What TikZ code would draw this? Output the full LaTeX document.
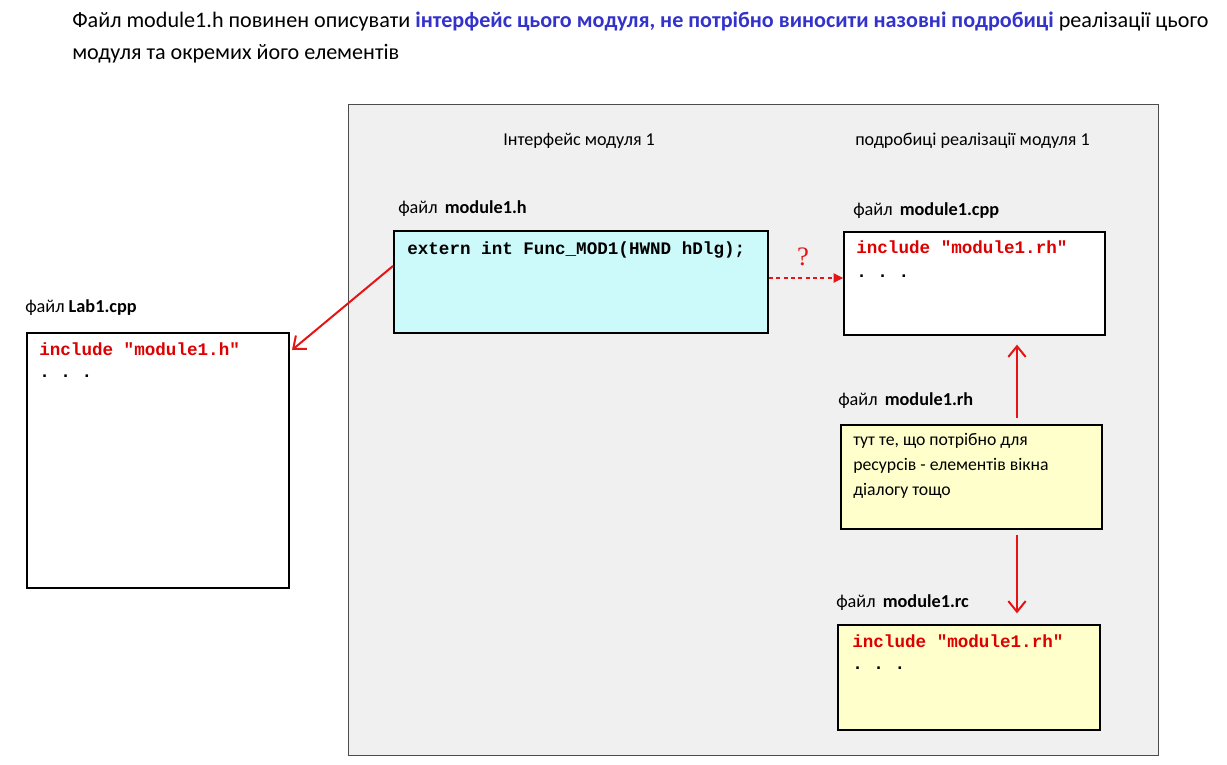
\documentclass[tikz,border=0pt]{standalone}
\usepackage{fontspec}
\setmainfont{Carlito}
\newfontfamily\codefont{Liberation Mono}
\newfontfamily\serifq{Liberation Serif}
\usetikzlibrary{arrows.meta,calc}
\definecolor{panelgray}{RGB}{240,240,240}
\definecolor{cyanbox}{RGB}{204,250,250}
\definecolor{yellowbox}{RGB}{255,255,204}
\definecolor{codered}{RGB}{220,0,0}
\definecolor{arrred}{RGB}{230,20,20}
\definecolor{titleblue}{RGB}{51,51,204}
\tikzset{
  filebox/.style={draw=black, line width=1.5pt, rectangle, inner sep=0pt, anchor=north west},
  codetxt/.style={anchor=base west, inner sep=0pt, font=\codefont\bfseries\fontsize{13.2}{15}\selectfont, text=codered},
  dotstxt/.style={anchor=base west, inner sep=0pt, font=\codefont\bfseries\fontsize{13.2}{15}\selectfont, text=black},
  lbl/.style={anchor=base west, inner sep=0pt, font=\fontsize{13.7}{15}\selectfont},
  head/.style={anchor=base west, inner sep=0pt, font=\fontsize{13.6}{15}\selectfont},
  solidarr/.style={draw=arrred, line width=1.5pt, -{Straight Barb[length=8pt,width=13pt,line width=1.5pt]}},
  dasharr/.style={draw=arrred, line width=0.8pt, dash pattern=on 3pt off 2.5pt, -{Triangle[length=7pt,width=7pt]}},
}
\begin{document}
\begin{tikzpicture}[x=0.75pt,y=-0.75pt]
\useasboundingbox (0,0) rectangle (1227,764);
% title
\node[anchor=base west, inner sep=0pt, font=\fontsize{16.6}{19}\selectfont] (t1) at (72,27)
  {Файл module1.h повинен описувати \textcolor{titleblue}{\bfseries інтерфейс цього модуля, не потрібно виносити назовні подробиці} реалізації цього};
\node[anchor=base west, inner sep=0pt, font=\fontsize{16.6}{19}\selectfont] (t2) at (72,59)
  {модуля та окремих його елементів};
% panel
\node[draw=black!70, line width=0.6pt, fill=panelgray, rectangle, inner sep=0pt, anchor=north west,
  minimum width=810*0.75pt, minimum height=651*0.75pt] (panel) at (348,104) {};
\node[head] (h1) at (503,145) {Інтерфейс модуля 1};
\node[head] (h2) at (855,145) {подробиці реалізації модуля 1};
% Lab1
\node[lbl] (l1) at (25,312) {файл \textbf{Lab1.cpp}};
\node[filebox, fill=white, minimum width=262*0.75pt, minimum height=255*0.75pt] (lab) at (26,332) {};
\node[codetxt] (labc) at (39,355) {include "module1.h"};
\node[dotstxt] (labd) at (39,377) {.~.~.};
% module1.h
\node[lbl] (l2) at (398,213) {файл\, \textbf{module1.h}};
\node[filebox, fill=cyanbox, minimum width=374*0.75pt, minimum height=102*0.75pt] (mh) at (393,230) {};
\node[codetxt, text=black] (mhc) at (407,254) {extern int Func\_MOD1(HWND hDlg);};
% module1.cpp
\node[lbl] (l3) at (853,215) {файл\, \textbf{module1.cpp}};
\node[filebox, fill=white, minimum width=261*0.75pt, minimum height=103*0.75pt] (cpp) at (843,231) {};
\node[codetxt] (cppc) at (856,253) {include "module1.rh"};
\node[dotstxt] (cppd) at (856,277) {.~.~.};
% module1.rh
\node[lbl] (l4) at (838,405) {файл\, \textbf{module1.rh}};
\node[filebox, fill=yellowbox, minimum width=261*0.75pt, minimum height=104*0.75pt] (rh) at (840,424) {};
\node[anchor=north west, inner sep=0pt, align=left, font=\fontsize{13.3}{18.9}\selectfont] (rht) at (853,433)
  {тут те, що потрібно для\\ресурсів - елементів вікна\\діалогу тощо};
% module1.rc
\node[lbl] (l5) at (836,607) {файл\, \textbf{module1.rc}};
\node[filebox, fill=yellowbox, minimum width=262*0.75pt, minimum height=105*0.75pt] (rc) at (837,624) {};
\node[codetxt] (rcc) at (852,647) {include "module1.rh"};
\node[dotstxt] (rcd) at (852,669) {.~.~.};
% arrows
\coordinate (ax) at (1017,0);
\draw[solidarr] ([yshift=12pt]mh.west) -- ([xshift=1.5pt,yshift=-13.5pt]lab.north east);
\draw[solidarr, shorten <=4.5pt, shorten >=6.5pt] (rh.north -| ax) -- (cpp.south -| ax);
\draw[solidarr, shorten <=4pt, shorten >=8pt] (rh.south -| ax) -- (rc.north -| ax);
\draw[dasharr] ([yshift=3pt]mh.east) -- ([yshift=3pt]mh.east -| cpp.west);
\node[anchor=base, inner sep=0pt, text=arrred, font=\serifq\fontsize{20}{22}\selectfont] (q) at (803,265) {?};
\end{tikzpicture}
\end{document}
